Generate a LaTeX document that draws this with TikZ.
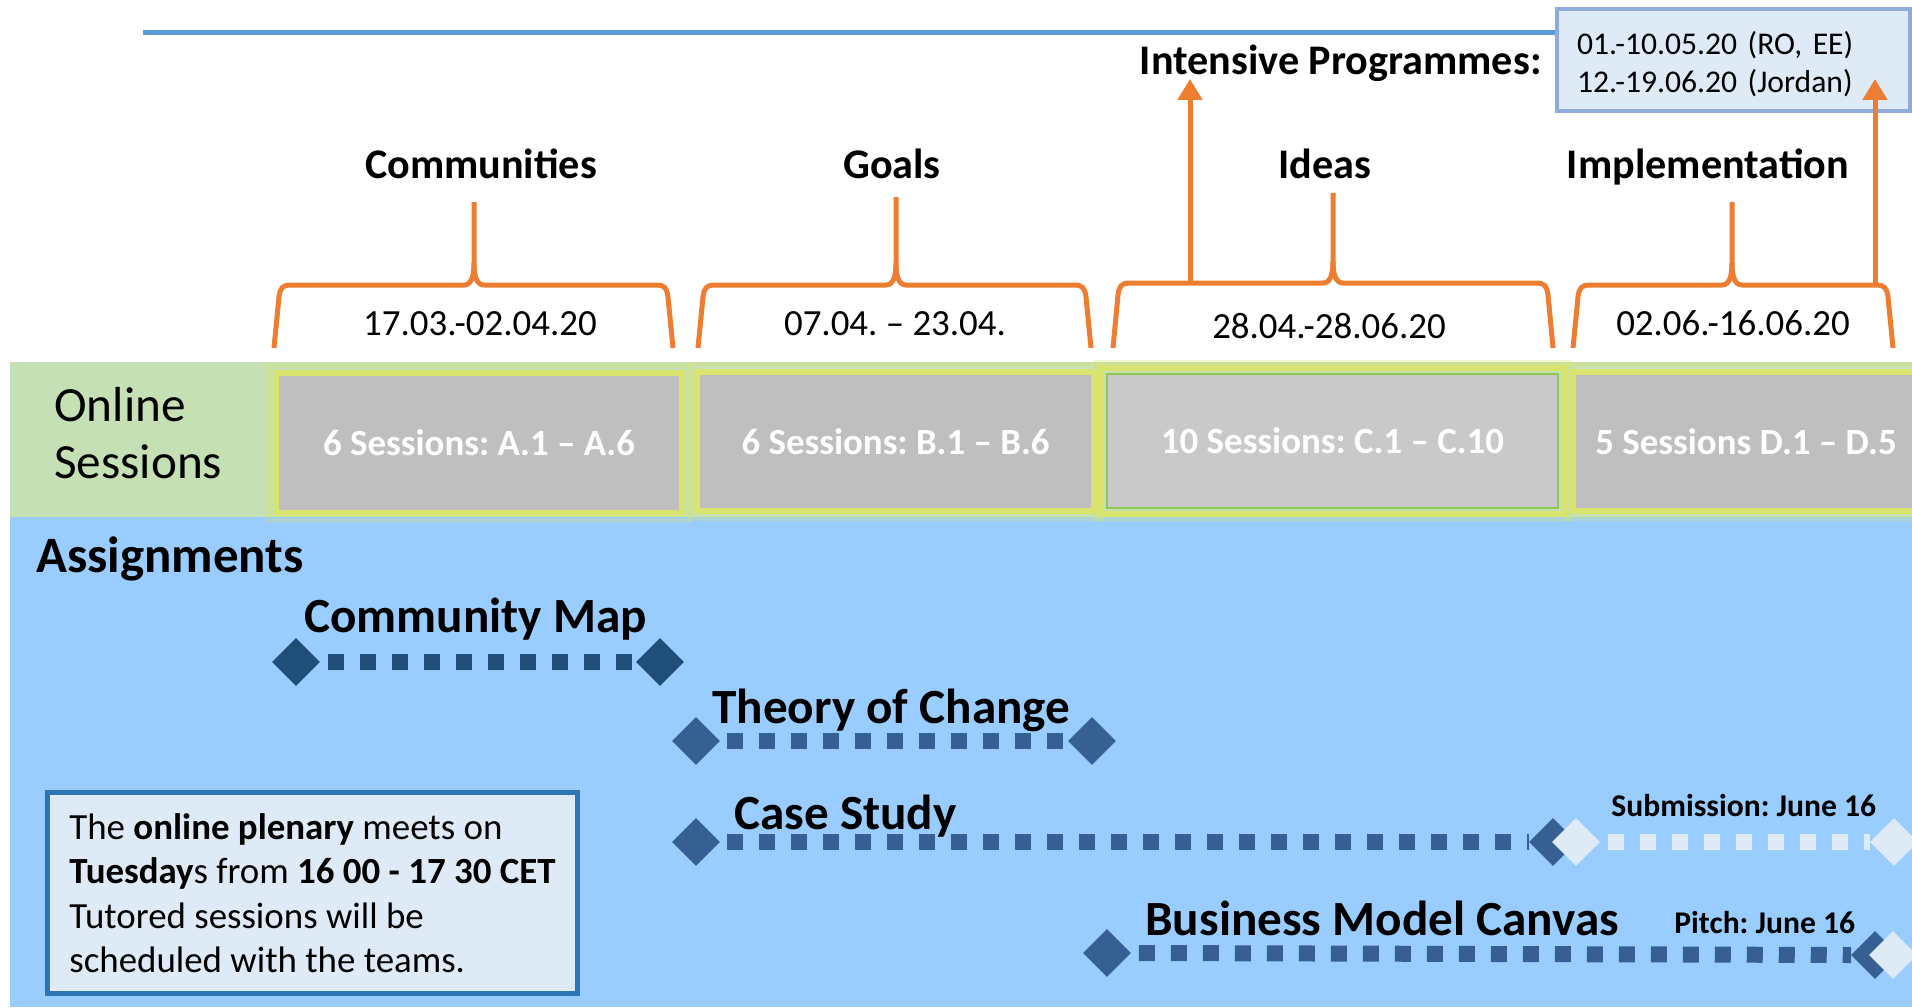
\documentclass[tikz,border=0pt]{standalone}
\usepackage{fontspec}
\setmainfont{Carlito}
\frenchspacing
\usetikzlibrary{shapes.geometric,arrows.meta}
\definecolor{orangeB}{HTML}{ED7D31}
\definecolor{lineblue}{HTML}{5B9BD5}
\definecolor{greenband}{HTML}{C5E0B4}
\definecolor{blueband}{HTML}{99CCFF}
\definecolor{sessgray}{HTML}{BFBFBF}
\definecolor{sessgrayC}{HTML}{C9C9C9}
\definecolor{glow}{HTML}{D8E46E}
\definecolor{greenedge}{HTML}{8CCB4F}
\definecolor{paleblue}{HTML}{DEEBF7}
\definecolor{boxedge}{HTML}{8FAADC}
\definecolor{infoedge}{HTML}{2E75B6}
\definecolor{navy}{HTML}{1F4E79}
\definecolor{midnavy}{HTML}{376092}
\newcommand{\phasebrace}[5]{% L R S T H
  \draw[brace] (#1,348) -- ({#1+5},{#5+12}) .. controls ({#1+6},{#5+3}) and ({#1+9},#5) .. ({#1+16},#5)
     -- ({#3-10},#5) .. controls ({#3-3},#5) and (#3,{#5-8}) .. (#3,{#5-22}) -- (#3,#4);
  \draw[brace] (#3,{#5-22}) .. controls (#3,{#5-8}) and ({#3+3},#5) .. ({#3+10},#5)
     -- ({#2-16},#5) .. controls ({#2-9},#5) and ({#2-6},{#5+3}) .. ({#2-5},{#5+12}) -- (#2,348);
}
\begin{document}
\begin{tikzpicture}[x=0.02cm,y=-0.02cm,
  phase/.style={font=\bfseries\fontsize{24}{28}\selectfont, anchor=base, inner sep=0},
  datelbl/.style={font=\fontsize{21}{25}\selectfont, anchor=base, inner sep=0},
  brace/.style={draw=orangeB, line width=0.1cm, line join=round},
  uparrow/.style={draw=orangeB, line width=0.1cm, -{Triangle[length=0.42cm,width=0.48cm]}},
  session/.style={fill=sessgray, draw=glow, line width=0.12cm, minimum height=2.8cm, text=white,
     font=\bfseries\fontsize{21}{25}\selectfont, inner sep=0},
  halo/.style={draw=glow, opacity=0.3, line width=0.1cm},
  gem/.style={diamond, minimum width=0.94cm, minimum height=0.94cm, inner sep=0, draw=none},
  taskline/.style={line width=0.32cm, dash pattern=on 0.32cm off 0.32cm},
  tasklbl/.style={font=\bfseries\fontsize{28}{32}\selectfont, anchor=base west, inner sep=0},
  duelbl/.style={font=\bfseries\fontsize{18}{22}\selectfont, anchor=base west, inner sep=0}
]
\fill[white] (0,0) rectangle (1912,1007);
\useasboundingbox (0,0) rectangle (1912,1007);
\fill[greenband] (10,362) rectangle (1912,517);
\fill[blueband] (10,517) rectangle (1912,1007);

% sessions
\node[session, minimum width=8.12cm] (sA) at (479,443) {6 Sessions: A.1 – A.6};
\node[session, minimum width=7.94cm, minimum height=2.78cm] (sB) at (895.5,441.5) {6 Sessions: B.1 – B.6};
\draw[glow, line width=0.12cm] (1101,368) rectangle (1564,514);
\node[session, fill=sessgrayC, draw=greenedge, line width=0.04cm, minimum width=9.02cm, minimum height=2.68cm] (sC) at (1332.5,441) {10 Sessions: C.1 – C.10};
\node[session, minimum width=6.92cm, minimum height=2.78cm] (sD) at (1746,441.5) {5 Sessions D.1 – D.5};
\foreach \n in {sA,sB,sD}{
  \draw[halo] ([shift={(-5,-5)}]\n.north west) rectangle ([shift={(5,5)}]\n.south east);
}
\draw[halo] ([shift={(-11,-11)}]sC.north west) rectangle ([shift={(11,11)}]sC.south east);

\node[font=\fontsize{28}{32.4}\selectfont, align=left, anchor=north west, inner sep=0] (online) at (54,387) {Online\\Sessions};

% top line and intensive programmes
\node[fill=paleblue, draw=boxedge, line width=0.08cm, minimum width=7.06cm, minimum height=2.04cm,
      text width=6.26cm, inner xsep=0.4cm, inner ysep=0, align=left,
      font=\fontsize{18}{21.6}\selectfont] (ipbox) at (1733.5,60) {\rule{0pt}{18pt}01.-10.05.20 (RO, EE)\\12.-19.06.20 (Jordan)};
\coordinate (linestart) at (143,33);
\draw[lineblue, line width=0.1cm] (linestart) -- (linestart -| ipbox.west);
\node[font=\bfseries\fontsize{24}{28}\selectfont, anchor=base east, inner sep=0] (iplabel) at (1542,74) {Intensive Programmes:};

% phases
\node[phase] (pA) at (481,178) {Communities};
\node[phase] (pB) at (892,178) {Goals};
\node[phase] (pC) at (1325,178) {Ideas};
\node[phase] (pD) at (1708,178) {Implementation};

\phasebrace{274}{673}{474}{202}{285}
\phasebrace{698}{1091}{896}{197}{285}
\phasebrace{1113}{1553}{1333}{193}{283}
\phasebrace{1573}{1893}{1732}{202}{285}

\node[datelbl] (dA) at (480,335) {17.03.-02.04.20};
\node[datelbl] (dB) at (895,335) {07.04. – 23.04.};
\node[datelbl] (dC) at (1329,338) {28.04.-28.06.20};
\node[datelbl] (dD) at (1733,335) {02.06.-16.06.20};

\coordinate (a1s) at (1190,283);
\coordinate (a1e) at (1190,79);
\coordinate (a2s) at (1875,285);
\coordinate (a2e) at (1875,79);
\draw[uparrow] (a1s) -- (a1e);
\draw[uparrow] (a2s) -- (a2e);

% assignments
\node[font=\bfseries\fontsize{29}{33}\selectfont, anchor=base west, inner sep=0] (assign) at (36,572) {Assignments};

\node[tasklbl] (tA) at (304,632) {Community Map};
\node[tasklbl] (tB) at (712,723) {Theory of Change};
\node[tasklbl] (tC) at (734,829) {Case Study};
\node[tasklbl] (tD) at (1145,935) {Business Model Canvas};
\node[duelbl] (subm) at (1611,816) {Submission: June 16};
\node[duelbl] (pitch) at (1674,933) {Pitch: June 16};

\node[gem] (d1a) at (296,662) {};
\node[gem] (d1b) at (660,662) {};
\node[gem] (d2a) at (696,741) {};
\node[gem] (d2b) at (1092,741) {};
\node[gem] (d3a) at (696,842) {};
\node[gem] (d3b) at (1553,842) {};
\node[gem] (d3c) at (1576,842) {};
\node[gem] (d3d) at (1894,842) {};
\node[gem] (d4a) at (1107,953) {};
\node[gem] (d4b) at (1875,955) {};
\node[gem] (d4c) at (1893,955) {};

\draw[taskline, navy] ([xshift=0.16cm]d1a.east) -- (d1b.west);
\draw[taskline, midnavy] ([xshift=0.14cm]d2a.east) -- (d2b.west);
\draw[taskline, midnavy] ([xshift=0.14cm]d3a.east) -- (d3b.west);
\draw[taskline, paleblue] ([xshift=0.16cm]d3c.east) -- (d3d.west);
\draw[taskline, midnavy] ([xshift=0.16cm]d4a.east) -- (d4b.west);
% diamonds on top of the lines
\foreach \n/\c in {d1a/navy,d1b/navy,d2a/midnavy,d2b/midnavy,d3a/midnavy,d3b/midnavy,d4a/midnavy,d4b/midnavy,d3c/paleblue,d3d/paleblue,d4c/paleblue}{
  \fill[\c] (\n.north) -- (\n.east) -- (\n.south) -- (\n.west) -- cycle;
}

% info box
\node[fill=paleblue, draw=infoedge, line width=0.1cm, minimum width=10.6cm, minimum height=4.02cm,
      align=left, inner sep=0, font=\fontsize{21}{25.3}\selectfont] (info) at (312.5,893)
  {The \textbf{online plenary} meets on\\\textbf{Tuesday}s from \textbf{16 00 - 17 30 CET}\\Tutored sessions will be\\scheduled with the teams.};
\end{tikzpicture}
\end{document}
